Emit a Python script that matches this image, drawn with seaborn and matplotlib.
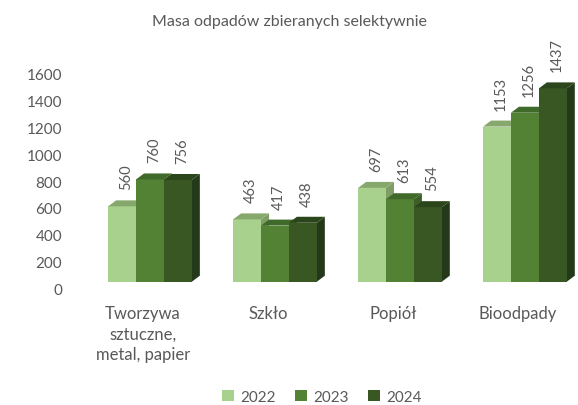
import numpy as np
import pandas as pd
import matplotlib.pyplot as plt
import matplotlib.transforms as mtransforms
from matplotlib.patches import Polygon, Patch
import seaborn as sns

# data
categories = ["Tworzywa\nsztuczne,\nmetal, papier", "Szkło", "Popiół", "Bioodpady"]
years = ["2022", "2023", "2024"]
v2022 = [560, 463, 697, 1153]
v2023 = [760, 417, 613, 1256]
v2024 = [756, 438, 554, 1437]
yticks = [0, 200, 400, 600, 800, 1000, 1200, 1400, 1600]

front = ["#a9d18e", "#548235", "#385723"]
top = ["#86a86c", "#406a29", "#2b461b"]
side = ["#7f9e65", "#3c5f27", "#24391a"]
grey = "#595959"

df = pd.DataFrame({
    "cat": categories * 3,
    "year": [y for y in years for _ in categories],
    "val": v2022 + v2023 + v2024,
})

sns.set_style("white")
plt.rcParams["font.family"] = ["Lato", "DejaVu Sans"]

fig = plt.figure(figsize=(5.78, 4.06), dpi=100)
ax = fig.add_axes([0.1384, 0.3037, 0.8606, 0.5633])

sns.barplot(data=df, x="cat", y="val", hue="year", palette=front,
            width=0.67, ax=ax, legend=False, saturation=1)

ax.set_xlim(-0.56, 3.42)
ax.set_ylim(0, 1700)
ax.set_xlabel("")
ax.set_ylabel("")
sns.despine(ax=ax, left=True, bottom=True)

# depth of the fake 3d boxes, 8 px right and 6 px up
w_px = 0.8606 * 578
h_px = 0.5633 * 406
dx = 8 / w_px * (3.42 + 0.56)
dy = 6 / h_px * 1700

for k, cont in enumerate(ax.containers):
    for bar, val in zip(cont.patches, cont.datavalues):
        x0, w, h = bar.get_x(), bar.get_width(), bar.get_height()
        z = 3 + k
        bar.set_zorder(z + 0.2)
        bar.set_edgecolor("none")
        ax.add_patch(Polygon([(x0 + w, 0), (x0 + w + dx, dy), (x0 + w + dx, h + dy), (x0 + w, h)],
                             closed=True, fc=side[k], ec="none", zorder=z, clip_on=False))
        ax.add_patch(Polygon([(x0, h), (x0 + w, h), (x0 + w + dx, h + dy), (x0 + dx, h + dy)],
                             closed=True, fc=top[k], ec="none", zorder=z + 0.3, clip_on=False))
        ax.annotate(str(int(val)), (x0 + w / 2, h), xytext=(4, 17), textcoords="offset pixels",
                    rotation=90, ha="center", va="bottom", fontsize=10.5, color=grey,
                    zorder=20, annotation_clip=False)

ax.set_yticks(yticks)
ax.set_yticklabels([str(t) for t in yticks])
ax.tick_params(axis="y", length=0, pad=13, labelsize=11, labelcolor=grey)
ax.tick_params(axis="x", length=0, pad=17, labelsize=12, labelcolor=grey)
for lab in ax.get_yticklabels():
    lab.set_transform(lab.get_transform() + mtransforms.ScaledTranslation(0, -7 / 100, fig.dpi_scale_trans))
for lab in ax.get_xticklabels():
    lab.set_linespacing(1.35)
    lab.set_transform(lab.get_transform() + mtransforms.ScaledTranslation(-7 / 100, 0, fig.dpi_scale_trans))
ax.grid(False)

fig.text(0.5, 0.945, "Masa odpadów zbieranych selektywnie", ha="center", va="center",
         fontsize=11.5, color=grey)

handles = [Patch(fc=c, ec="none") for c in front]
fig.legend(handles, years, loc="center", bbox_to_anchor=(0.557, 0.02), ncol=3, frameon=False,
           fontsize=11, labelcolor=grey, handlelength=0.75, handleheight=0.75,
           handletextpad=0.4, columnspacing=1.3)

fig.savefig("out.png", dpi=100)
